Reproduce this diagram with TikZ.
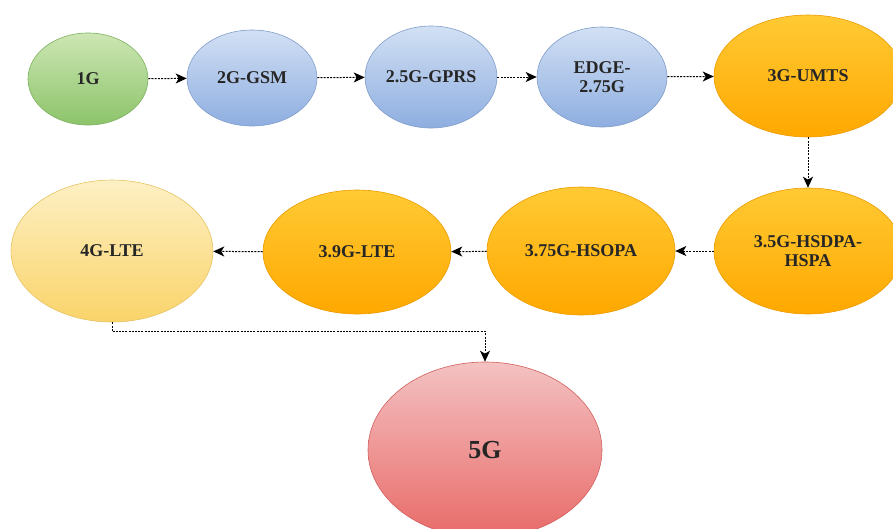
\documentclass[tikz,border=0pt]{standalone}
\usepackage{fontspec}
\setmainfont{Liberation Serif}
\usetikzlibrary{shapes.geometric,arrows.meta}
\definecolor{gtop}{HTML}{CDE6B4}
\definecolor{gbot}{HTML}{8CC46A}
\definecolor{btop}{HTML}{D2E0F4}
\definecolor{bbot}{HTML}{8EAEE0}
\definecolor{otop}{HTML}{FFCA34}
\definecolor{obot}{HTML}{FFA800}
\definecolor{ytop}{HTML}{FDF0C4}
\definecolor{ybot}{HTML}{FAD46A}
\definecolor{rtop}{HTML}{F4C2C2}
\definecolor{rbot}{HTML}{E86A68}
\tikzset{
  gen/.style={ellipse, inner sep=0pt, align=center, text=black!85,
    font=\bfseries\fontsize{18}{19}\selectfont, line width=0.6pt},
  greengen/.style={gen, top color=gtop, bottom color=gbot, draw=gbot!90!black},
  bluegen/.style={gen, top color=btop, bottom color=bbot, draw=bbot!90!black},
  orangegen/.style={gen, top color=otop, bottom color=obot, draw=obot!92!black},
  yellowgen/.style={gen, top color=ytop, bottom color=ybot, draw=ybot!92!black},
  redgen/.style={gen, top color=rtop, bottom color=rbot, draw=rbot!90!black},
  flow/.style={draw=black, line width=1pt, dash pattern=on 2pt off 1.2pt,
    -{Stealth[length=11pt,width=10pt,inset=3pt]}}
}
\begin{document}
\begin{tikzpicture}[x=1pt,y=-1pt]
\useasboundingbox (0,0) rectangle (893,528);
\begin{scope}
\clip (0,0) rectangle (893,528);
\node[greengen, minimum width=120pt, minimum height=92pt] (g1) at (88,79) {1G};
\node[bluegen, minimum width=130pt, minimum height=96pt] (g2) at (252,78) {2G-GSM};
\node[bluegen, minimum width=132pt, minimum height=102pt] (g25) at (431,77) {2.5G-GPRS};
\node[bluegen, minimum width=130pt, minimum height=100pt] (g275) at (602,77) {EDGE-\\2.75G};
\node[orangegen, minimum width=188pt, minimum height=122pt] (g3) at (808,76) {3G-UMTS};
\node[orangegen, minimum width=188pt, minimum height=126pt] (g35) at (808,251) {3.5G-HSDPA-\\HSPA};
\node[orangegen, minimum width=188pt, minimum height=128pt] (g375) at (581,251) {3.75G-HSOPA};
\node[orangegen, minimum width=188pt, minimum height=124pt] (g39) at (357,252) {3.9G-LTE};
\node[yellowgen, minimum width=202pt, minimum height=142pt] (g4) at (112,251) {4G-LTE};
\node[redgen, minimum width=234pt, minimum height=176pt, font=\bfseries\fontsize{26}{28}\selectfont] (g5) at (485,450) {5G};
\end{scope}
\draw[flow] (g1) -- (g2);
\draw[flow] (g2) -- (g25);
\draw[flow] (g25) -- (g275);
\draw[flow] (g275) -- (g3);
\draw[flow] (g3) -- (g35);
\draw[flow] (g35) -- (g375);
\draw[flow] (g375) -- (g39);
\draw[flow] (g39) -- (g4);
\draw[flow] (g4.south) -- ++(0,9) -| (g5.north);
\end{tikzpicture}
\end{document}
